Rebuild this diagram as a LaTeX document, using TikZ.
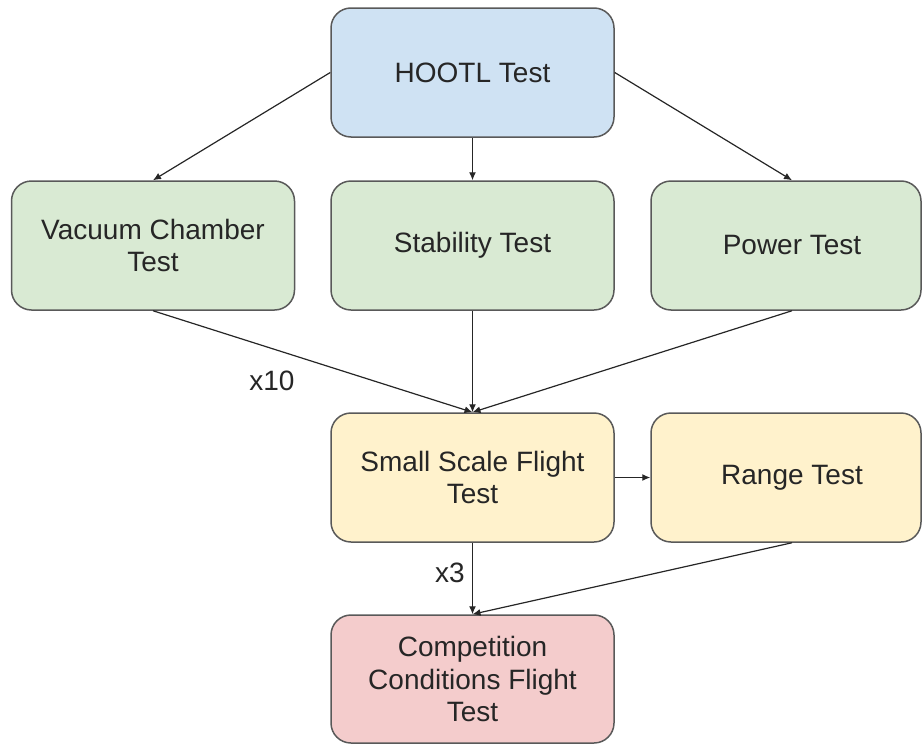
\documentclass[tikz,border=0pt]{standalone}
\usepackage{fontspec}
\setmainfont{Liberation Sans}
\usetikzlibrary{arrows.meta}
\definecolor{hootlblue}{HTML}{CFE2F3}
\definecolor{testgreen}{HTML}{D9EAD3}
\definecolor{flightyellow}{HTML}{FFF2CC}
\definecolor{finalred}{HTML}{F4CCCC}
\definecolor{edgegray}{HTML}{595959}
\definecolor{inkgray}{HTML}{262626}
\tikzset{
  stagebox/.style={draw=edgegray, line width=1.5pt, rounded corners=20pt,
    minimum height=129pt, inner sep=2pt, align=center, text=inkgray,
    font=\fontsize{28}{32.5}\selectfont},
  widebox/.style={stagebox, minimum width=283pt},
  edgebox/.style={stagebox, minimum width=270pt},
  flow/.style={draw=inkgray, line width=1.2pt,
    -{Latex[length=8pt,width=7pt]}},
  countlabel/.style={text=inkgray, font=\fontsize{28}{32}\selectfont, inner sep=0pt}
}
\begin{document}
\begin{tikzpicture}[x=1pt, y=-1pt]
  \useasboundingbox (0,0) rectangle (923,744);

  % stages
  \node[widebox, fill=hootlblue]    (hootl) at (472.5,72.5)  {HOOTL Test};
  \node[widebox, fill=testgreen]    (vac)   at (153,245.5)   {Vacuum Chamber\\Test};
  \node[widebox, fill=testgreen]    (stab)  at (472.5,245.5) {Stability Test};
  \node[edgebox, fill=testgreen]    (power) at (786,245.5)   {\hspace*{12pt}Power Test};
  \node[widebox, fill=flightyellow] (small) at (472.5,477.5) {Small Scale Flight\\Test};
  \node[edgebox, fill=flightyellow] (range) at (786,477.5)   {\hspace*{12pt}Range Test};
  \node[widebox, fill=finalred, minimum height=128pt]
                                    (comp)  at (472.5,679)   {Competition\\Conditions Flight\\Test};

  % attachment points offset toward the text centre of the right-hand boxes
  \coordinate (powertop) at ([xshift=6pt]power.north);
  \coordinate (powerbot) at ([xshift=6pt]power.south);
  \coordinate (rangebot) at ([xshift=6pt]range.south);

  % connectors
  \draw[flow] (hootl.west) -- (vac.north);
  \draw[flow] (hootl.south) -- (stab.north);
  \draw[flow] (hootl.east) -- (powertop);
  \draw[flow] (vac.south) -- (small.north);
  \draw[flow] (stab.south) -- (small.north);
  \draw[flow] (powerbot) -- (small.north);
  \draw[flow] (small.east) -- (range.west);
  \draw[flow] (small.south) -- (comp.north);
  \draw[flow] (rangebot) -- (comp.north);

  % repetition counts
  \node[countlabel] (tenx)  at (272,381) {x10};
  \node[countlabel] (threex) at (450,573) {x3};
\end{tikzpicture}
\end{document}
